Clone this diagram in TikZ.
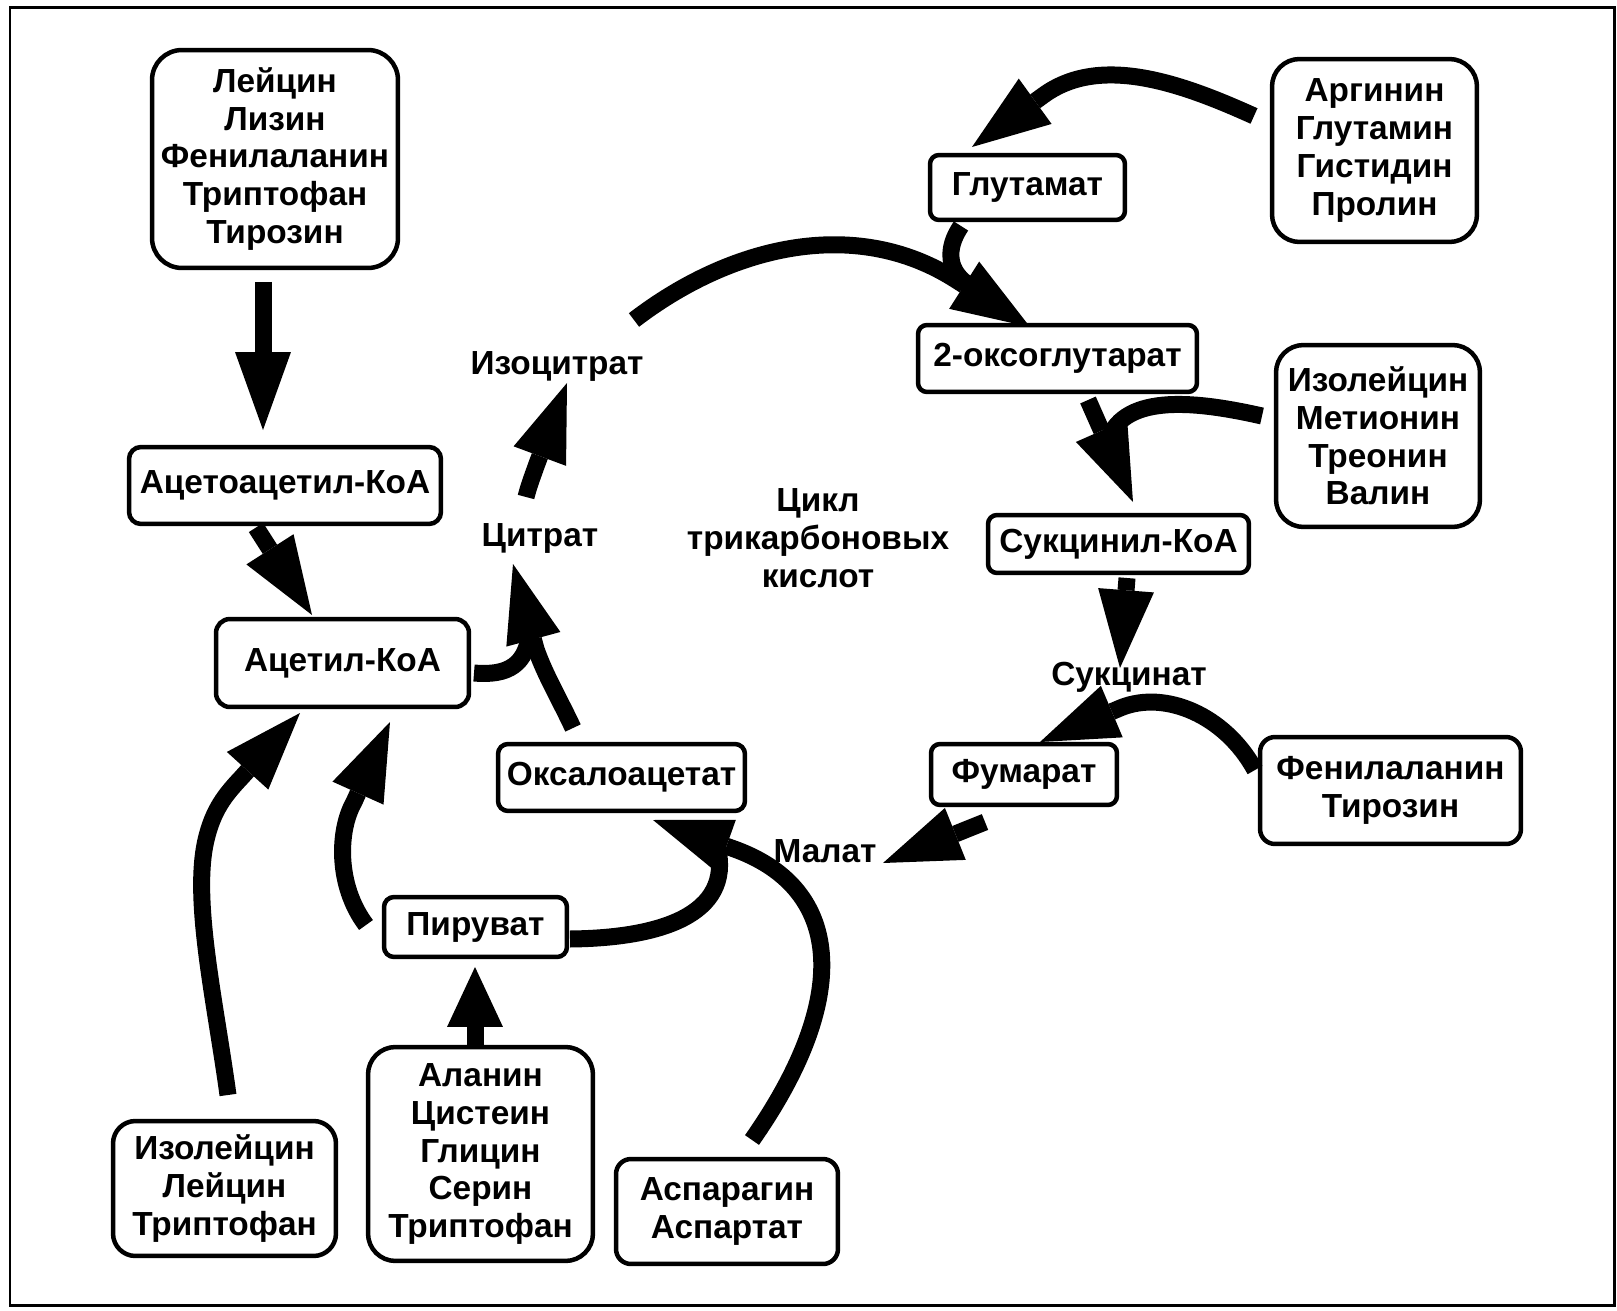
\documentclass[tikz,border=0pt]{standalone}
\usepackage{fontspec}
\setmainfont{Liberation Sans}
\usetikzlibrary{arrows.meta,calc}
\begin{document}
\begin{tikzpicture}[x=0.02cm, y=-0.02cm,
  every node/.style={font=\fontsize{19}{21.5}\selectfont\bfseries},
  box/.style={draw, line width=0.09cm, fill=white, align=center, inner sep=0pt},
  lbl/.style={align=center, inner sep=0pt},
  shaft/.style={line width=0.34cm},
  flow/.style={shaft, -{Triangle[length=1.56cm, width=1.12cm, line width=0pt]}},
  shortflow/.style={shaft, -{Triangle[length=1.2cm, width=1.12cm, line width=0pt]}}]
\useasboundingbox (0,0) rectangle (1617,1311);
\draw[line width=0.06cm] (10,8) rectangle (1614,1305);

% boxes
\node[box, rounded corners=0.6cm, minimum width=4.92cm, minimum height=4.36cm] (top) at (275,159) {Лейцин\\Лизин\\Фенилаланин\\Триптофан\\Тирозин};
\node[box, rounded corners=0.24cm, minimum width=6.24cm, minimum height=1.54cm] (acac) at (285,485.5) {Ацетоацетил-КоА};
\node[box, rounded corners=0.28cm, minimum width=5.06cm, minimum height=1.76cm] (acetyl) at (342.5,663) {Ацетил-КоА};
\node[box, rounded corners=0.2cm, minimum width=4.94cm, minimum height=1.34cm] (oxalo) at (621.5,777.5) {Оксалоацетат};
\node[box, rounded corners=0.2cm, minimum width=3.66cm, minimum height=1.20cm] (pyr) at (475.5,927) {Пируват};
\node[box, rounded corners=0.45cm, minimum width=4.46cm, minimum height=2.70cm] (ileLeu) at (224.5,1188.5) {Изолейцин\\Лейцин\\Триптофан};
\node[box, rounded corners=0.55cm, minimum width=4.50cm, minimum height=4.28cm] (ala) at (480.5,1154) {Аланин\\Цистеин\\Глицин\\Серин\\Триптофан};
\node[box, rounded corners=0.3cm, minimum width=4.44cm, minimum height=2.10cm] (asp) at (727,1211.5) {Аспарагин\\Аспартат};
\node[box, rounded corners=0.18cm, minimum width=3.90cm, minimum height=1.30cm] (glu) at (1027.5,187.5) {Глутамат};
\node[box, rounded corners=0.55cm, minimum width=4.10cm, minimum height=3.66cm] (arg) at (1374.5,150.5) {Аргинин\\Глутамин\\Гистидин\\Пролин};
\node[box, rounded corners=0.18cm, minimum width=5.58cm, minimum height=1.34cm] (oxoglu) at (1057.5,358.5) {2-оксоглутарат};
\node[box, rounded corners=0.55cm, minimum width=4.08cm, minimum height=3.64cm] (ileMet) at (1378,436) {Изолейцин\\Метионин\\Треонин\\Валин};
\node[box, rounded corners=0.18cm, minimum width=5.22cm, minimum height=1.16cm] (succoa) at (1118.5,544) {Сукцинил-КоА};
\node[box, rounded corners=0.18cm, minimum width=3.72cm, minimum height=1.22cm] (fum) at (1024,774.5) {Фумарат};
\node[box, rounded corners=0.3cm, minimum width=5.22cm, minimum height=2.14cm] (pheTyr) at (1390.5,790.5) {Фенилаланин\\Тирозин};

% labels
\node[lbl] (iso) at (557,366) {Изоцитрат};
\node[lbl] (cit) at (540,538) {Цитрат};
\node[lbl] (cycle) at (818,538) {Цикл\\трикарбоновых\\кислот};
\node[lbl] (succ) at (1129,677) {Сукцинат};
\node[lbl] (mal) at (825,851) {Малат};

% merging shafts (no heads)
\draw[shaft] ($(acetyl.center)+(131.5,10)$) .. controls ($(acetyl.center)+(165.5,13)$) and ($(acetyl.center)+(184.5,2)$) .. ($(acetyl.center)+(187.5,-33)$);
\draw[shaft] ($(glu.center)+(-66.5,38.5)$) .. controls ($(glu.center)+(-81.5,60.5)$) and ($(glu.center)+(-81.5,84.5)$) .. ($(glu.center)+(-55.5,99.5)$);
\draw[shaft] ($(ileMet.center)+(-116,-20)$) .. controls ($(ileMet.center)+(-178,-34)$) and ($(ileMet.center)+(-253,-44)$) .. ($(ileMet.center)+(-270,4)$);
\draw[shaft] ($(pyr.center)+(94.5,12)$) .. controls ($(pyr.center)+(194.5,11)$) and ($(pyr.center)+(260.5,-17)$) .. ($(pyr.center)+(240.5,-85)$);

% arrows
\draw[flow] ($(top.center)+(-12,123)$) -- ($(acac.center)+(-22,-55.5)$);
\draw[flow] ($(acac.center)+(-29,42)$) -- ($(acetyl.center)+(-30.5,-48)$);
\draw[flow] ($(oxalo.center)+(-48.5,-49.5)$) .. controls ($(oxalo.center)+(-61.5,-77.5)$) and ($(oxalo.center)+(-76.5,-102.5)$) .. ($(oxalo.center)+(-85.5,-128.5)$) -- ($(cit.center)+(-27,26)$);
\draw[flow] ($(cit.center)+(-14,-41)$) .. controls ($(cit.center)+(-11,-53)$) and ($(cit.center)+(-7,-63)$) .. ($(cit.center)+(-3.5,-73)$) -- ($(iso.center)+(10,17)$);
\draw[flow] ($(iso.center)+(77,-46)$) .. controls ($(iso.center)+(172,-119)$) and ($(oxoglu.center)+(-203.5,-143.5)$) .. ($(oxoglu.center)+(-102,-78.8)$) -- ($(oxoglu.center)+(-27.5,-31.5)$);
\draw[flow] ($(arg.center)+(-120.5,-34.5)$) .. controls ($(arg.center)+(-193.5,-67.5)$) and ($(glu.center)+(72.5,-133.5)$) .. ($(glu.center)+(15.8,-92.1)$) -- ($(glu.center)+(-55.5,-40.5)$);
\draw[flow] ($(oxoglu.center)+(30.5,41.5)$) -- ($(succoa.center)+(14.5,-42)$);
\draw[flow] ($(succoa.center)+(8.5,34)$) -- ($(succ.center)+(-9,-9)$);
\draw[flow] ($(pheTyr.center)+(-135.5,-20.5)$) .. controls ($(pheTyr.center)+(-165.5,-75.5)$) and ($(fum.center)+(141,-84.5)$) .. ($(fum.center)+(97,-66.8)$) -- ($(fum.center)+(16,-32.5)$);
\draw[flow] ($(fum.center)+(-39,47.5)$) -- ($(mal.center)+(58,12)$);
\draw[flow] ($(asp.center)+(25,-71.5)$) .. controls ($(asp.center)+(123,-211.5)$) and ($(oxalo.center)+(223.5,112.5)$) .. ($(oxalo.center)+(114.2,72)$) -- ($(oxalo.center)+(31.5,42.5)$);
\draw[flow] ($(pyr.center)+(-109.5,-2)$) .. controls ($(pyr.center)+(-139.5,-42)$) and ($(pyr.center)+(-137.5,-97)$) .. ($(acetyl.center)+(11.5,139)$) -- ($(acetyl.center)+(47.5,59)$);
\draw[flow] ($(ileLeu.center)+(3.5,-93.5)$) .. controls ($(ileLeu.center)+(-9.5,-188.5)$) and ($(ileLeu.center)+(-32.5,-288.5)$) .. ($(ileLeu.center)+(-18.5,-348.5)$) .. controls ($(acetyl.center)+(-129.5,147)$) and ($(acetyl.center)+(-117.5,132)$) .. ($(acetyl.center)+(-101.5,115)$) -- ($(acetyl.center)+(-42.5,50)$);
\draw[shortflow] ($(ala.center)+(-5.5,-109)$) -- ($(pyr.center)+(-0.5,40)$);
\end{tikzpicture}
\end{document}
